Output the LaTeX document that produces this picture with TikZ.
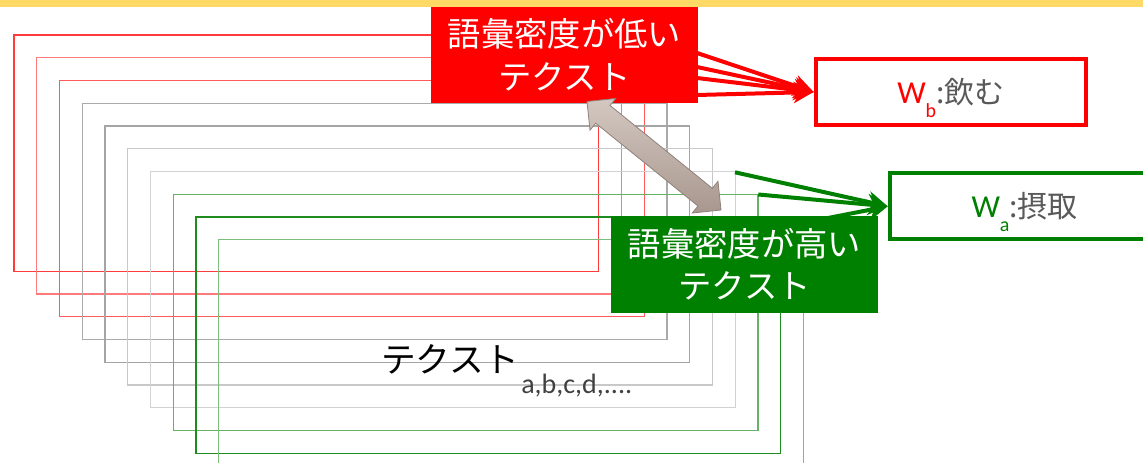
\documentclass[tikz,border=0pt]{standalone}
\usepackage{fontspec}
\newfontfamily\jpfont{Noto Sans CJK JP}
\newfontfamily\calfont{Carlito}
\usetikzlibrary{shapes.arrows,calc,arrows.meta}
\definecolor{rA}{HTML}{FF3B3B}
\definecolor{rB}{HTML}{FF7B7B}
\definecolor{rC}{HTML}{FF5A5A}
\definecolor{gA}{HTML}{AAAAAA}
\definecolor{gB}{HTML}{A5A5A5}
\definecolor{gC}{HTML}{C8C8C8}
\definecolor{gD}{HTML}{D2D2D2}
\definecolor{nA}{HTML}{66B266}
\definecolor{nB}{HTML}{1E8C1E}
\definecolor{nC}{HTML}{7CBF7C}
\definecolor{boxgreen}{HTML}{008000}
\definecolor{barY}{HTML}{FFD966}
\definecolor{txtgray}{HTML}{595959}
\definecolor{subgray}{HTML}{404040}
\definecolor{arrA}{HTML}{A8978E}
\definecolor{arrB}{HTML}{D3C8C1}
\definecolor{arrBorder}{HTML}{8E817A}
\tikzset{
  layer/.style={line width=0.85pt},
  labelbox/.style={inner sep=0pt, text=white, align=center,
    font=\jpfont\fontsize{25pt}{32pt}\selectfont},
  wordbox/.style={fill=white, inner sep=0pt, minimum width=202.5pt, minimum height=49.5pt},
  redconn/.style={draw=red, line width=3pt, -{Stealth[length=15pt,width=16pt]}},
  greenconn/.style={draw=boxgreen, line width=3pt, -{Stealth[length=15pt,width=16pt]}},
}
\begin{document}
\begin{tikzpicture}[x=0.75pt,y=-0.75pt]
\useasboundingbox (0,0) rectangle (1143,463);
\fill[barY] (0,0) rectangle (1143,7);
% stacked text layers
\foreach \i/\c in {0/rA,1/rB,2/rC,3/gA,4/gB,5/gC,6/gD,7/nA,8/nB,9/nC}
  \draw[layer,draw=\c] ({14+22.75*\i},{35+22.75*\i}) rectangle ++(584.7,236.3);
% connector start points
\coordinate (r1) at (697,53);
\coordinate (r2) at (697,67);
\coordinate (r3) at (697,78);
\coordinate (r4) at (697,95);
\coordinate (g1) at (735,172.3);
\coordinate (g2) at (758.3,194.5);
\coordinate (g3) at (828,218);
\coordinate (t1) at (587,101.5);
\coordinate (t2) at (721,210);
% word boxes
\node[wordbox, draw=red, line width=3.4pt] (wb) at (950.9,92)
  {\textcolor{red}{\calfont\fontsize{24pt}{24pt}\selectfont W\smash{\raisebox{-0.45em}{\fontsize{15pt}{15pt}\selectfont b}}}\textcolor{txtgray}{\jpfont\fontsize{22.5pt}{22.5pt}\selectfont :飲む}};
\node[wordbox, draw=boxgreen, line width=3pt] (wa) at (1024.7,206.3)
  {\textcolor{boxgreen}{\calfont\fontsize{24pt}{24pt}\selectfont W\smash{\raisebox{-0.45em}{\fontsize{15pt}{15pt}\selectfont a}}}\textcolor{txtgray}{\jpfont\fontsize{22.5pt}{22.5pt}\selectfont :摂取}};
% connectors
\foreach \s in {r1,r2,r3,r4} \draw[redconn] (\s) -- (wb.west);
\foreach \s in {g1,g2,g3} \draw[greenconn] (\s) -- (wa.west);
% label boxes
\node[labelbox, fill=red, minimum width=200pt, minimum height=71.8pt] (low) at (564.35,54.85)
  {語彙密度が低い\\テクスト};
\node[labelbox, fill=boxgreen, minimum width=200.25pt, minimum height=72.5pt] (high) at (744.5,264.35)
  {語彙密度が高い\\テクスト};
% double arrow between the two label boxes
\path let \p1=($(t2)-(t1)$), \n1={atan2(\y1,\x1)}, \n2={veclen(\x1,\y1)} in
  node[double arrow, double arrow head extend=6.75pt, double arrow tip angle=90,
       minimum width=30pt, minimum height=\n2, inner xsep=0pt, inner ysep=8.25pt, rotate=\n1,
       draw=arrBorder, line width=0.6pt, top color=arrB, bottom color=arrA] (da)
  at ($(t1)!0.5!(t2)$) {};
% main text
\node[anchor=base west, inner sep=0pt, font=\jpfont\fontsize{26pt}{26pt}\selectfont] (txt) at (381,373) {テクスト};
\node[anchor=base west, inner sep=0pt, text=subgray, font=\calfont\fontsize{21pt}{21pt}\selectfont] (sub) at (521,393) {a,b,c,d,....};
\end{tikzpicture}
\end{document}
